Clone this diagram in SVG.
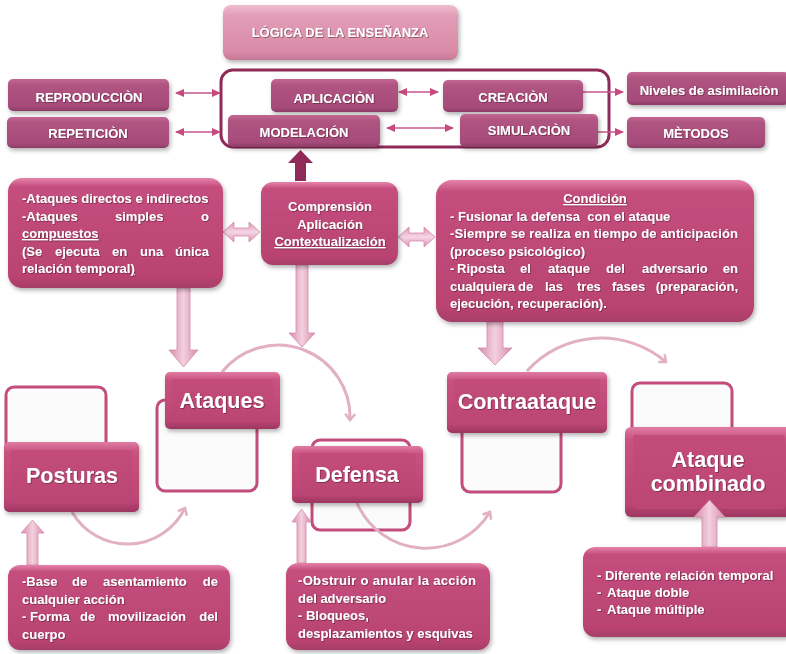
<svg xmlns="http://www.w3.org/2000/svg" width="786" height="654" viewBox="0 0 786 654">
<defs>
  <linearGradient id="gNode" x1="0" y1="0" x2="0" y2="1">
    <stop offset="0" stop-color="#e07ca4"/>
    <stop offset="0.14" stop-color="#c8527f"/>
    <stop offset="0.86" stop-color="#bb4574"/>
    <stop offset="1" stop-color="#9c3660"/>
  </linearGradient>
  <linearGradient id="gInner" x1="0" y1="0" x2="0" y2="1">
    <stop offset="0" stop-color="#c34c7a"/>
    <stop offset="1" stop-color="#bb4573"/>
  </linearGradient>
  <linearGradient id="gSmall" x1="0" y1="0" x2="0" y2="1">
    <stop offset="0" stop-color="#c46792"/>
    <stop offset="0.18" stop-color="#b05482"/>
    <stop offset="0.85" stop-color="#a64b7a"/>
    <stop offset="1" stop-color="#8e3c66"/>
  </linearGradient>
  <linearGradient id="gText" x1="0" y1="0" x2="0" y2="1">
    <stop offset="0" stop-color="#e683aa"/>
    <stop offset="0.08" stop-color="#c44e7e"/>
    <stop offset="0.9" stop-color="#b94371"/>
    <stop offset="1" stop-color="#a63e68"/>
  </linearGradient>
  <linearGradient id="gTitle" x1="0" y1="0" x2="0" y2="1">
    <stop offset="0" stop-color="#efbdd0"/>
    <stop offset="0.2" stop-color="#e29db7"/>
    <stop offset="0.85" stop-color="#d98aa7"/>
    <stop offset="1" stop-color="#c67796"/>
  </linearGradient>
  <linearGradient id="gFatV" x1="0" y1="0" x2="1" y2="0">
    <stop offset="0" stop-color="#d78cac"/>
    <stop offset="0.5" stop-color="#f3d0de"/>
    <stop offset="1" stop-color="#d78cac"/>
  </linearGradient>
  <linearGradient id="gFatH" x1="0" y1="0" x2="0" y2="1">
    <stop offset="0" stop-color="#dc92b5"/>
    <stop offset="0.5" stop-color="#f6d6e6"/>
    <stop offset="1" stop-color="#dc92b5"/>
  </linearGradient>
  <filter id="sh" x="-10%" y="-10%" width="125%" height="130%">
    <feDropShadow dx="1.5" dy="2.5" stdDeviation="2" flood-color="#000" flood-opacity="0.3"/>
  </filter>
  <filter id="tsh" x="-5%" y="-20%" width="110%" height="150%">
    <feDropShadow dx="0.8" dy="0.8" stdDeviation="0.5" flood-color="#4a0c28" flood-opacity="0.6"/>
  </filter>
  <marker id="mThin" markerUnits="userSpaceOnUse" markerWidth="9" markerHeight="8" refX="8" refY="4" orient="auto-start-reverse">
    <path d="M0,0 L9,4 L0,8 Z" fill="#c64a7d"/>
  </marker>
  <marker id="mArc" markerUnits="userSpaceOnUse" markerWidth="10" markerHeight="12" refX="7" refY="6" orient="auto">
    <path d="M1,1 L7,6 L1,11" fill="none" stroke="#e2b0c4" stroke-width="2.5"/>
  </marker>
</defs>
<style>
  .t{font-family:"Liberation Sans",Arial,Helvetica,sans-serif;font-weight:bold;fill:#fff;font-size:13px;filter:url(#tsh)}
  .big{font-size:21.5px}
  .c{text-anchor:middle}
  .e{text-anchor:end}
  .u{text-decoration:underline}
  .frame{fill:#fbfbfb;stroke:#c24c7b;stroke-width:3}
  .node{fill:url(#gNode);filter:url(#sh)}
  .inner{fill:url(#gInner)}
  .small{fill:url(#gSmall);filter:url(#sh)}
  .tbox{fill:url(#gText);filter:url(#sh)}
  .thin{fill:none;stroke:#c9548a;stroke-width:1.5}
  .arc{fill:none;stroke:#e2b0c4;stroke-width:3}
  .fatv{fill:url(#gFatV);stroke:#d48aaa;stroke-width:0.8}
  .fath{fill:url(#gFatH);stroke:#d48aaa;stroke-width:0.8}
</style>
<rect width="786" height="654" fill="#fff"/>

<!-- decorative white frames behind main nodes -->
<g id="frames">
  <rect class="frame" x="6" y="387" width="100" height="72" rx="8"/>
  <rect class="frame" x="157" y="400" width="100" height="91" rx="8"/>
  <rect class="frame" x="312" y="440" width="98" height="90" rx="8"/>
  <rect class="frame" x="462" y="420" width="99" height="72" rx="8"/>
  <rect class="frame" x="632" y="383" width="100" height="72" rx="8"/>
</g>

<g id="connectors">
  <!-- container outline -->
  <rect x="221" y="70" width="388" height="77" rx="12" fill="none" stroke="#902a58" stroke-width="3"/>
  <!-- thin arrows -->
  <path class="thin" d="M176,93 H220" marker-start="url(#mThin)" marker-end="url(#mThin)"/>
  <path class="thin" d="M176,132 H220" marker-start="url(#mThin)" marker-end="url(#mThin)"/>
  <path class="thin" d="M399,92 H438" marker-start="url(#mThin)" marker-end="url(#mThin)"/>
  <path class="thin" d="M387,128 H453" marker-start="url(#mThin)" marker-end="url(#mThin)"/>
  <path class="thin" d="M583,92 H623" marker-end="url(#mThin)"/>
  <path class="thin" d="M583,132 H623" marker-end="url(#mThin)"/>
  <!-- dark up arrow -->
  <path d="M295,181 L306,181 L306,163 L313,163 L300.5,150 L288,163 L295,163 Z" fill="#902a58"/>
  <!-- fat double arrows -->
  <path class="fath" d="M223,232 L234,222 L234,228 L249,228 L249,222 L260,232 L249,242 L249,236 L234,236 L234,242 Z"/>
  <path class="fath" d="M398,237 L409,227 L409,233 L424,233 L424,227 L435,237 L424,247 L424,241 L409,241 L409,247 Z"/>
  <!-- fat down arrows -->
  <path class="fatv" d="M177,288 L190,288 L190,350 L198,350 L183.5,367 L169,350 L177,350 Z"/>
  <path class="fatv" d="M296,265 L308,265 L308,333 L315,333 L302,347 L289,333 L296,333 Z"/>
  <path class="fatv" d="M487,322 L503,322 L503,348 L512,348 L495,365 L478,348 L487,348 Z"/>
  <!-- fat up arrows -->
  <path class="fatv" d="M27,565 L38,565 L38,533 L44,533 L32.5,520 L21,533 L27,533 Z"/>
  <path class="fatv" d="M297,563 L306,563 L306,522 L311,522 L301.5,509 L292,522 L297,522 Z"/>
  <!-- circular arcs -->
  <path class="arc" d="M222,372 A72,72 0 0 1 350,420" marker-end="url(#mArc)"/>
  <path class="arc" d="M527,371 A100,100 0 0 1 666,362" marker-end="url(#mArc)"/>
  <path class="arc" d="M72,512 A64,64 0 0 0 185,508" marker-end="url(#mArc)"/>
  <path class="arc" d="M357,503 A75,75 0 0 0 490,512" marker-end="url(#mArc)"/>
</g>

<g id="titulo">
  <rect x="223" y="5" width="235" height="55" rx="8" fill="url(#gTitle)" filter="url(#sh)"/>
  <text class="t c" x="340" y="37">LÓGICA DE LA ENSEÑANZA</text>
</g>
<g id="reproduccion">
  <rect class="small" x="8" y="79" width="161" height="32" rx="5"/>
  <text class="t c" x="89" y="102">REPRODUCCIÒN</text>
</g>
<g id="repeticion">
  <rect class="small" x="7" y="117" width="162" height="31" rx="5"/>
  <text class="t c" x="88" y="137.5">REPETICIÒN</text>
</g>
<g id="aplicacion">
  <rect class="small" x="271" y="79" width="127" height="33" rx="5"/>
  <text class="t c" x="334" y="103">APLICACIÒN</text>
</g>
<g id="modelacion">
  <rect class="small" x="228" y="115" width="152" height="32" rx="5"/>
  <text class="t c" x="304" y="136.5">MODELACIÓN</text>
</g>
<g id="creacion">
  <rect class="small" x="443" y="80" width="140" height="32" rx="5"/>
  <text class="t c" x="513" y="102">CREACIÒN</text>
</g>
<g id="simulacion">
  <rect class="small" x="460" y="114" width="138" height="33" rx="5"/>
  <text class="t c" x="529" y="135">SIMULACIÒN</text>
</g>
<g id="niveles">
  <rect class="small" x="627" y="72" width="162" height="33" rx="5"/>
  <text class="t c" x="709" y="95">Niveles de asimilaciòn</text>
</g>
<g id="metodos">
  <rect class="small" x="627" y="117" width="138" height="31" rx="5"/>
  <text class="t c" x="696" y="138">MÈTODOS</text>
</g>

<g id="ataques-texto">
  <rect class="tbox" x="8" y="178" width="215" height="110" rx="14"/>
  <text class="t" x="22" y="203">-Ataques directos e indirectos</text>
  <text class="t" x="22" y="220.5">-Ataques</text>
  <text class="t" x="115" y="220.5">simples</text>
  <text class="t e" x="209" y="220.5">o</text>
  <text class="t u" x="22" y="238">compuestos</text>
  <text class="t" x="22" y="255.5">(Se</text>
  <text class="t" x="55" y="255.5">ejecuta</text>
  <text class="t" x="112" y="255.5">en</text>
  <text class="t" x="140" y="255.5">una</text>
  <text class="t e" x="209" y="255.5">única</text>
  <text class="t" x="22" y="273">relación temporal<tspan class="u">)</tspan></text>
</g>
<g id="comprension">
  <rect class="tbox" x="261" y="182" width="137" height="83" rx="12"/>
  <text class="t c" x="330" y="211">Comprensión</text>
  <text class="t c" x="330" y="228.5">Aplicación</text>
  <text class="t c u" x="330" y="246">Contextualización</text>
</g>
<g id="condicion">
  <rect class="tbox" x="436" y="180" width="318" height="142" rx="16"/>
  <text class="t c u" x="595" y="203">Condición</text>
  <text class="t" x="450" y="220.5" xml:space="preserve">- Fusionar la defensa  con el ataque</text>
  <text class="t" x="450" y="238" textLength="288" lengthAdjust="spacing">-Siempre se realiza en tiempo de anticipación</text>
  <text class="t" x="450" y="255.5">(proceso psicológico)</text>
  <text class="t" x="450" y="273">-</text>
  <text class="t" x="457" y="273">Riposta</text>
  <text class="t" x="520" y="273">el</text>
  <text class="t" x="548" y="273">ataque</text>
  <text class="t" x="606" y="273">del</text>
  <text class="t" x="642" y="273">adversario</text>
  <text class="t e" x="738" y="273">en</text>
  <text class="t" x="450" y="290.5">cualquiera</text>
  <text class="t" x="518" y="290.5">de</text>
  <text class="t" x="545" y="290.5">las</text>
  <text class="t" x="577" y="290.5">tres</text>
  <text class="t" x="612" y="290.5">fases</text>
  <text class="t e" x="738" y="290.5">(preparación,</text>
  <text class="t" x="450" y="308">ejecución, recuperación).</text>
</g>

<g id="posturas">
  <rect class="node" x="4" y="442" width="135" height="70" rx="5"/>
  <rect class="inner" x="11" y="450" width="121" height="54" rx="3"/>
  <text class="t big c" x="72" y="483">Posturas</text>
</g>
<g id="ataques">
  <rect class="node" x="165" y="372" width="115" height="57" rx="5"/>
  <rect class="inner" x="172" y="379" width="101" height="43" rx="3"/>
  <text class="t big c" x="222" y="408">Ataques</text>
</g>
<g id="defensa">
  <rect class="node" x="292" y="446" width="131" height="57" rx="5"/>
  <rect class="inner" x="299" y="453" width="117" height="43" rx="3"/>
  <text class="t big c" x="357" y="482">Defensa</text>
</g>
<g id="contraataque">
  <rect class="node" x="447" y="372" width="160" height="61" rx="5"/>
  <rect class="inner" x="454" y="379" width="146" height="47" rx="3"/>
  <text class="t big c" x="527" y="409">Contraataque</text>
</g>
<g id="ataque-combinado">
  <rect class="node" x="625" y="427" width="168" height="90" rx="6"/>
  <rect class="inner" x="633" y="435" width="152" height="74" rx="3"/>
  <text class="t big c" x="708" y="467">Ataque</text>
  <text class="t big c" x="708" y="491">combinado</text>
</g>

<g id="connectors-top">
  <path class="fatv" d="M702,547 L717,547 L717,517 L725,517 L709.5,500 L694,517 L702,517 Z"/>
</g>

<g id="posturas-texto">
  <rect class="tbox" x="8" y="565" width="222" height="85" rx="12"/>
  <text class="t" x="22" y="586">-Base</text>
  <text class="t" x="72" y="586">de</text>
  <text class="t" x="103" y="586">asentamiento</text>
  <text class="t e" x="218" y="586">de</text>
  <text class="t" x="22" y="603.5">cualquier acción</text>
  <text class="t" x="22" y="621">-</text>
  <text class="t" x="30" y="621">Forma</text>
  <text class="t" x="80" y="621">de</text>
  <text class="t" x="108" y="621">movilización</text>
  <text class="t e" x="218" y="621">del</text>
  <text class="t" x="22" y="638.5">cuerpo</text>
</g>
<g id="defensa-texto">
  <rect class="tbox" x="286" y="563" width="204" height="87" rx="12"/>
  <text class="t" x="298" y="585" textLength="178" lengthAdjust="spacing">-Obstruir o anular la acción</text>
  <text class="t" x="298" y="602.5">del adversario</text>
  <text class="t" x="298" y="620">- Bloqueos,</text>
  <text class="t" x="298" y="637.5">desplazamientos y esquivas</text>
</g>
<g id="combinado-texto">
  <rect class="tbox" x="583" y="547" width="215" height="90" rx="12"/>
  <text class="t" x="597" y="580">- Diferente relación temporal</text>
  <text class="t" x="597" y="597">-</text>
  <text class="t" x="607" y="597">Ataque doble</text>
  <text class="t" x="597" y="614">-</text>
  <text class="t" x="607" y="614">Ataque múltiple</text>
</g>
</svg>
